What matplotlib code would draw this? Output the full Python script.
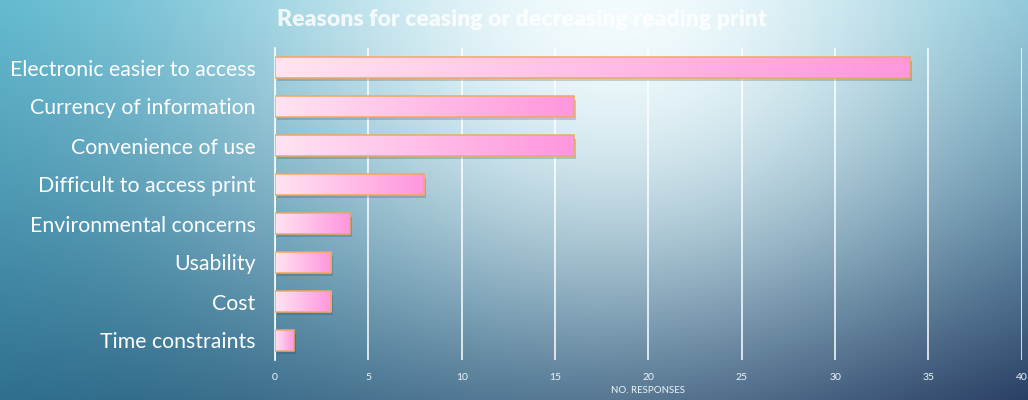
import numpy as np
import matplotlib
matplotlib.use("Agg")
import matplotlib.pyplot as plt
from matplotlib import patheffects as pe

categories = ["Electronic easier to access", "Currency of information", "Convenience of use",
              "Difficult to access print", "Environmental concerns", "Usability", "Cost",
              "Time constraints"]
values = [34, 16, 16, 8, 4, 3, 3, 1]
xticks = [0, 5, 10, 15, 20, 25, 30, 35, 40]
title = "Reasons for ceasing or decreasing reading print"
xlabel = "NO. RESPONSES"

W, H = 1028, 400
fig = plt.figure(figsize=(W / 100, H / 100), dpi=100)

# background gradient
bg = fig.add_axes([0, 0, 1, 1], zorder=-10)
u = np.linspace(0, 1, W)[None, :]
v = np.linspace(0, 1, H)[:, None]
TL = np.array([85, 180, 204]); TR = np.array([95, 175, 200])
BL = np.array([42, 108, 140]); BR = np.array([22, 45, 85])
base = ((1 - u)[..., None] * (1 - v)[..., None] * TL + u[..., None] * (1 - v)[..., None] * TR
        + (1 - u)[..., None] * v[..., None] * BL + u[..., None] * v[..., None] * BR)
d2 = ((u - 0.6) / 0.5) ** 2 + ((v - 0.0) / 1.1) ** 2
wgt = np.exp(-d2 * 1.6)[..., None]
light = np.array([242, 251, 253])
img = base * (1 - wgt) + light * wgt
bg.imshow(img / 255.0, aspect="auto", extent=[0, 1, 0, 1], origin="upper")
bg.axis("off")

ax = fig.add_axes([0.2675, 0.10, 0.7265, 0.78])
ax.patch.set_alpha(0)
y = np.arange(len(categories))
bars = ax.barh(y, values, height=0.52, color="#ffc8ec", edgecolor="none", zorder=3,
               path_effects=[pe.SimplePatchShadow(offset=(1.5, -2.5), shadow_rgbFace="#204050", alpha=0.22),
                             pe.Normal()])
grad = np.linspace(0, 1, 256)[None, :, None]
c0 = np.array([255, 228, 242]) / 255.0
c1 = np.array([255, 150, 222]) / 255.0
gimg = c0 * (1 - grad) + c1 * grad
for b in bars:
    x0, y0 = b.get_x(), b.get_y()
    w, h = b.get_width(), b.get_height()
    im = ax.imshow(gimg, aspect="auto", extent=[x0, x0 + w, y0, y0 + h], zorder=4,
                   interpolation="bilinear")
    im.set_clip_path(b)
ax.barh(y, values, height=0.52, fill=False, edgecolor="#f0a860", linewidth=1.1, zorder=5)

ax.set_xlim(0, 40)
ax.set_ylim(len(categories) - 0.5, -0.5)
ax.set_xticks(xticks)
ax.set_yticks(y)
ax.set_yticklabels(categories, fontsize=15.3, color="white", family="Lato")
ax.tick_params(axis="x", colors="#eef6f8", labelsize=7.5, length=0, pad=9)
ax.tick_params(axis="y", length=0, pad=14)
for lbl in ax.get_xticklabels():
    lbl.set_family("Lato")
ax.grid(axis="x", color="white", linewidth=1.1, zorder=0)
ax.set_axisbelow(True)
for s in ["top", "right", "bottom"]:
    ax.spines[s].set_visible(False)
ax.spines["left"].set_color("white")
ax.spines["left"].set_linewidth(1.2)
ax.set_xlabel(xlabel, fontsize=7, color="#eef6f8", family="Lato", labelpad=3)

fig.text(0.508, 0.952, title, ha="center", va="center", fontsize=16.6, fontweight="heavy",
         color="white", alpha=0.82, family="Lato")

fig.savefig("out.png", dpi=100)
